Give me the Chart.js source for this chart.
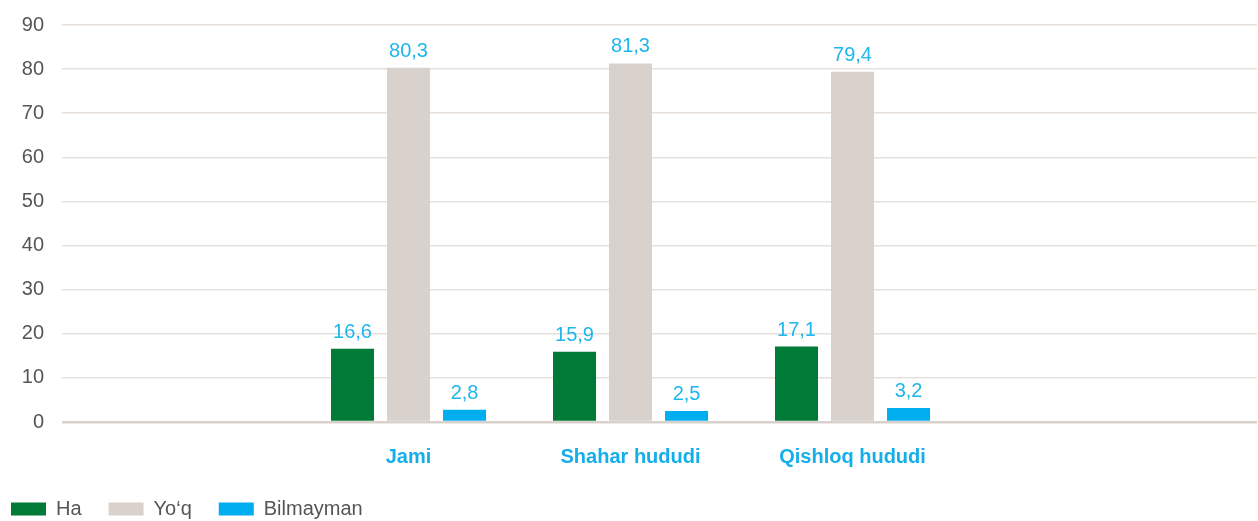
<!DOCTYPE html>
<html>
<head>
<meta charset="utf-8">
<script src="https://cdn.jsdelivr.net/npm/chart.js@4"></script>
<style>
  html, body { margin: 0; padding: 0; background: #ffffff; }
  #wrap { width: 1258px; height: 521px; position: relative; }
</style>
</head>
<body>
<div id="wrap"><canvas id="c" width="1258" height="521"></canvas></div>
<script>
const categories = ['Jami', 'Shahar hududi', 'Qishloq hududi'];
const seriesNames = ['Ha', 'Yo\u2018q', 'Bilmayman'];
const haValues = [16.6, 15.9, 17.1];
const yoqValues = [80.3, 81.3, 79.4];
const bilmaymanValues = [2.8, 2.5, 3.2];
const yTicks = [0, 10, 20, 30, 40, 50, 60, 70, 80, 90];

const colors = ['#007a37', '#d9d1cb', '#00aeef'];
const FONT = "'Liberation Sans', Arial, sans-serif";

function toPoints(arr) { return arr.map((v, i) => ({ x: i, y: v })); }

const valueLabels = {
  id: 'valueLabels',
  afterDatasetsDraw(chart) {
    const ctx = chart.ctx;
    ctx.save();
    ctx.font = '20px ' + FONT;
    ctx.fillStyle = '#1fb6ec';
    ctx.textAlign = 'center';
    ctx.textBaseline = 'alphabetic';
    chart.data.datasets.forEach((ds, di) => {
      const meta = chart.getDatasetMeta(di);
      meta.data.forEach((bar, i) => {
        const v = ds.data[i].y;
        ctx.fillText(v.toFixed(1).replace('.', ','), bar.x, bar.y - 11);
      });
    });
    ctx.restore();
  }
};

new Chart(document.getElementById('c'), {
  type: 'bar',
  data: {
    datasets: [
      { label: seriesNames[0], data: toPoints(haValues), backgroundColor: colors[0] },
      { label: seriesNames[1], data: toPoints(yoqValues), backgroundColor: colors[1] },
      { label: seriesNames[2], data: toPoints(bilmaymanValues), backgroundColor: colors[2] }
    ]
  },
  options: {
    responsive: false,
    animation: false,
    categoryPercentage: 0.757,
    barPercentage: 0.768,
    layout: { padding: { top: 25, left: -16, right: 1, bottom: -8 } },
    plugins: {
      tooltip: { enabled: false },
      legend: {
        position: 'bottom',
        align: 'start',
        labels: {
          boxWidth: 35,
          boxHeight: 13,
          padding: 27,
          color: '#555555',
          font: { family: FONT, size: 20 }
        }
      }
    },
    scales: {
      x: {
        type: 'linear',
        offset: false,
        bounds: 'data',
        min: -1.561,
        max: 3.822,
        afterBuildTicks(scale) { scale.ticks = categories.map((c, i) => ({ value: i })); },
        afterFit(scale) { scale.height = 50; scale.paddingLeft = 0; scale.paddingRight = 0; },
        grid: { display: false, drawTicks: false, offset: false },
        border: { display: false },
        ticks: {
          padding: 23,
          color: '#14aeea',
          font: { family: FONT, size: 20, weight: 'bold' },
          callback: (v) => categories[v] !== undefined ? categories[v] : ''
        }
      },
      y: {
        min: 0,
        max: 90,
        afterBuildTicks(scale) { scale.ticks = yTicks.map(v => ({ value: v })); },
        afterFit(scale) { scale.width = 78; scale.paddingTop = 0; scale.paddingBottom = 0; },
        border: { display: false },
        grid: {
          drawTicks: false,
          color: (c) => c.tick && c.tick.value === 0 ? '#d9d1cb' : '#e6e0dc',
          lineWidth: (c) => c.tick && c.tick.value === 0 ? 2.5 : 1.5
        },
        ticks: {
          padding: 18,
          color: '#555555',
          font: { family: FONT, size: 20 }
        }
      }
    }
  },
  plugins: [valueLabels]
});
</script>
</body>
</html>
